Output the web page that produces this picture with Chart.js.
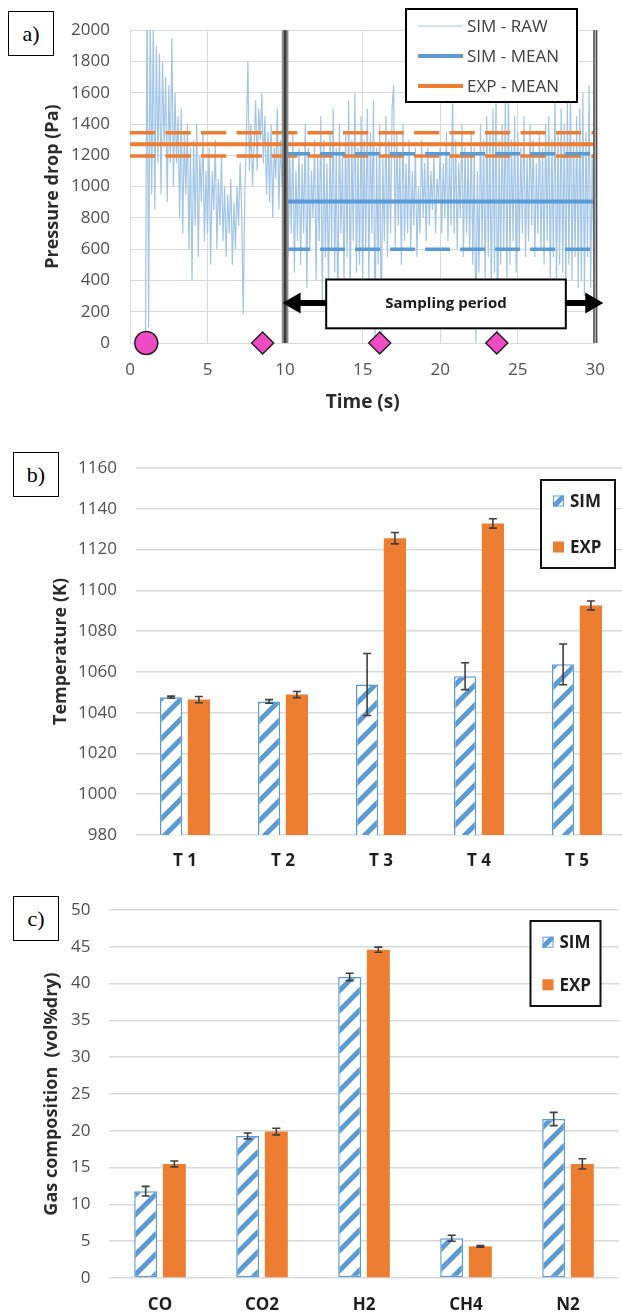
<!DOCTYPE html>
<html>
<head>
<meta charset="utf-8">
<script src="https://cdn.jsdelivr.net/npm/chart.js@4.4.1/dist/chart.umd.min.js"></script>
<style>
  html, body { margin: 0; padding: 0; background: #fff; }
  body { width: 622px; height: 1313px; overflow: hidden; position: relative; }
  canvas { position: absolute; left: 0; }
  .tag {
    position: absolute; z-index: 2; box-sizing: border-box;
    width: 46px; height: 45px; border: 1.5px solid #000; background: #fff;
    font: 22px "Liberation Serif", "DejaVu Serif", serif; color: #000;
    display: flex; align-items: center; justify-content: center;
  }
</style>
</head>
<body>
<canvas id="chartA" width="622" height="420" style="top:0;width:622px;height:420px"></canvas>
<canvas id="chartB" width="630" height="450" style="top:420px;width:630px;height:450px"></canvas>
<canvas id="chartC" width="622" height="443" style="top:870px;width:622px;height:443px"></canvas>
<div class="tag" style="left:8px;top:11px">a)</div>
<div class="tag" style="left:13px;top:452px">b)</div>
<div class="tag" style="left:13px;top:896px">c)</div>

<script>
// ---------- a) pressure drop ----------
// Simulated pressure drop, one sample every 0.1 s starting at t = 1.0 s
const RAW_START = 1.0;
const RAW_STEP = 0.1;
const simRaw = [
  0, 2300, 100, 2150, 950, 2050, 850, 1900, 1150, 1850,
  950, 1800, 1250, 1700, 900, 1650, 1150, 1950, 1000, 1600,
  1150, 1450, 800, 1500, 700, 1350, 950, 1400, 600, 1250,
  400, 1300, 750, 1400, 550, 1200, 900, 1350, 650, 1100,
  700, 1250, 500, 1100, 850, 1300, 600, 1050, 750, 1200,
  650, 1000, 550, 950, 700, 1050, 500, 900, 600, 1000,
  750, 1150, 850, 180, 950, 1300, 1800, 1100, 1400, 1000,
  1250, 1550, 1100, 1500, 1300, 1600, 1150, 1450, 950, 1350,
  900, 1400, 800, 1250, 1050, 1500, 850, 1300, 1000, 1200,
  800, 1300, 550, 1200, 700, 1350, 450, 1100, 650, 1250,
  500, 1150, 700, 1400, 350, 1250, 600, 1100, 800, 1300,
  400, 1200, 650, 1450, 250, 1300, 550, 1150, 300, 1350,
  600, 1500, 450, 1250, 150, 1400, 700, 1200, 400, 1350,
  550, 1550, 300, 1300, 650, 1600, 450, 1250, 500, 1450,
  350, 1300, 600, 1500, 400, 1350, 700, 1550, 0, 1250,
  500, 1400, 50, 1200, 650, 1450, 550, 1300, 700, 1500,
  1650, 600, 1350, 750, 1200, 500, 1400, 650, 1150, 700,
  1300, 600, 1100, 750, 1250, 550, 1000, 700, 1300, 800,
  1150, 650, 1250, 750, 1100, 850, 1200, 700, 1050, 900,
  1250, 700, 1150, 800, 1350, 650, 1200, 750, 1600, 700,
  1300, 600, 1150, 800, 1400, 550, 1250, 700, 1200, 600,
  1350, 500, 1250, 0, 1100, 450, 1400, 600, 1300, 400,
  1450, 550, 1350, 300, 1500, 450, 1600, 0, 1300, 500,
  1400, 600, 1550, 350, 1650, 500, 1300, 650, 1450, 450,
  1350, 600, 1250, 700, 1450, 550, 1200, 650, 1400, 750,
  1300, 550, 1150, 700, 1350, 600, 1250, 500, 1400, 650,
  1450, 400, 1300, 550, 1600, 350, 1350, 500, 1500, 450,
  1400, 300, 1550, 500, 1650, 400, 1300, 550, 1450, 350,
  1500, 400, 1600, 300, 1350, 550, 1650, 350, 1200, 500,
  1000
];
// [mean - std, mean, mean + std]
const expMeanBand = [1195, 1270, 1345];
const simMeanBand = [600, 905, 1210];
const expSpan = [0, 30];        // experimental mean covers the whole run
const samplingWindow = [10, 30]; // averaging period (s)
const startMarker = [1.05];
const sampleMarkers = [8.55, 16.1, 23.65];
const timeTicks = { min: 0, max: 30, step: 5 };
const pressureTicks = { min: 0, max: 2000, step: 200 };

// ---------- b) temperatures ----------
const tempLabels = ['T 1', 'T 2', 'T 3', 'T 4', 'T 5'];
const tempSim = [1047.6, 1045.5, 1053.8, 1057.9, 1063.7];
const tempSimErr = [0.5, 0.9, 15.2, 6.6, 10.0];
const tempExp = [1046.4, 1048.9, 1125.6, 1132.8, 1092.6];
const tempExpErr = [1.5, 1.5, 2.8, 2.3, 2.2];
const tempTicks = { min: 980, max: 1160, step: 20 };

// ---------- c) gas composition ----------
const gasLabels = ['CO', 'CO2', 'H2', 'CH4', 'N2'];
const gasSim = [11.8, 19.3, 40.9, 5.4, 21.6];
const gasSimErr = [0.65, 0.4, 0.5, 0.4, 0.9];
const gasExp = [15.5, 19.9, 44.6, 4.3, 15.5];
const gasExpErr = [0.4, 0.45, 0.35, 0.1, 0.7];
const gasTicks = { min: 0, max: 50, step: 5 };

// ---------- styling ----------
const FONT = '"Open Sans", "Liberation Sans", sans-serif';
const BLUE = '#5B9BD5';
const BLUE_LIGHT = '#A2C5E7';
const ORANGE = '#ED7D31';
const PINK = '#EE4BC4';
const GRID = '#D9D9D9';
const TICK_COLOR = '#505050';
const TITLE_COLOR = '#2B2B2B';
const plainNumber = v => String(v);

Chart.defaults.font.family = FONT;
Chart.defaults.color = TICK_COLOR;

function hatchPattern() {
  const c = document.createElement('canvas');
  c.width = 20; c.height = 20;
  const g = c.getContext('2d');
  g.fillStyle = '#fff';
  g.fillRect(0, 0, 20, 20);
  g.strokeStyle = BLUE;
  g.lineWidth = 5;
  g.beginPath();
  g.moveTo(-10, 10); g.lineTo(10, -10);
  g.moveTo(0, 20); g.lineTo(20, 0);
  g.moveTo(10, 30); g.lineTo(30, 10);
  g.stroke();
  return g.createPattern(c, 'repeat');
}
const HATCH = hatchPattern();

function flat(level, span) {
  return [{ x: span[0], y: level }, { x: span[1], y: level }];
}

// ---------- plugin: sampling window, annotation and legend for a) ----------
const pressureDecor = {
  id: 'pressureDecor',
  afterDatasetsDraw(chart) {
    const { ctx, chartArea: ca, scales: { x, y } } = chart;
    const h = ca.bottom - ca.top;
    const xs = x.getPixelForValue(samplingWindow[0]);
    const xe = x.getPixelForValue(samplingWindow[1]);
    ctx.save();

    // window start
    ctx.fillStyle = '#8A8A8A';
    ctx.fillRect(xs - 3.3, ca.top, 6.6, h);
    ctx.fillStyle = '#3C3C3C';
    ctx.fillRect(xs - 1.2, ca.top, 2.4, h);
    // window end
    ctx.fillStyle = '#B0B0B0';
    ctx.fillRect(xe - 2, ca.top, 4, h);
    ctx.fillStyle = '#4A4A4A';
    ctx.fillRect(xe - 2, ca.top, 1.3, h);
    ctx.fillRect(xe + 0.7, ca.top, 1.3, h);

    // "Sampling period" double arrow with label box
    const boxL = x.getPixelForValue(12.65), boxR = x.getPixelForValue(28.1);
    const boxT = y.getPixelForValue(406), boxB = y.getPixelForValue(94);
    const ay = y.getPixelForValue(256);
    const tipL = xs - 2.5, tipR = xe + 8;
    ctx.fillStyle = '#000';
    ctx.fillRect(tipL + 14, ay - 3, boxL - tipL - 14, 6);
    ctx.fillRect(boxR, ay - 3, tipR - boxR - 14, 6);
    ctx.beginPath();
    ctx.moveTo(tipL, ay); ctx.lineTo(tipL + 18, ay - 10.5); ctx.lineTo(tipL + 18, ay + 10.5); ctx.closePath();
    ctx.moveTo(tipR, ay); ctx.lineTo(tipR - 18, ay - 10.5); ctx.lineTo(tipR - 18, ay + 10.5); ctx.closePath();
    ctx.fill();
    ctx.fillStyle = '#fff';
    ctx.fillRect(boxL, boxT, boxR - boxL, boxB - boxT);
    ctx.lineWidth = 2;
    ctx.strokeStyle = '#000';
    ctx.strokeRect(boxL, boxT, boxR - boxL, boxB - boxT);
    ctx.fillStyle = '#1A1A1A';
    ctx.font = 'bold 15px ' + FONT;
    ctx.textAlign = 'center';
    ctx.textBaseline = 'middle';
    ctx.fillText('Sampling period', (boxL + boxR) / 2, (boxT + boxB) / 2);

    // legend
    const L = 406, T = 9, W = 171, H = 93;
    ctx.fillStyle = '#fff';
    ctx.fillRect(L, T, W, H);
    ctx.strokeRect(L, T, W, H);
    const items = chart.data.datasets.filter(d => d.legend);
    items.forEach((d, i) => {
      const yy = T + 17 + i * 30;
      ctx.strokeStyle = d.borderColor;
      ctx.lineWidth = d.borderWidth;
      ctx.beginPath();
      ctx.moveTo(L + 12, yy); ctx.lineTo(L + 57, yy);
      ctx.stroke();
      ctx.fillStyle = '#404040';
      ctx.font = '17px ' + FONT;
      ctx.textAlign = 'left';
      ctx.fillText(d.label, L + 61, yy + 1);
    });
    ctx.restore();
  }
};

// ---------- plugin: error bars for bar charts ----------
const errorBars = {
  id: 'errorBars',
  afterDatasetsDraw(chart) {
    const { ctx } = chart;
    const y = chart.scales.y;
    ctx.save();
    ctx.strokeStyle = '#3F3F3F';
    ctx.lineWidth = 1.6;
    chart.data.datasets.forEach((ds, di) => {
      if (!ds.errors) return;
      chart.getDatasetMeta(di).data.forEach((bar, i) => {
        const v = ds.data[i], e = ds.errors[i];
        const yt = y.getPixelForValue(v + e), yb = y.getPixelForValue(v - e);
        ctx.beginPath();
        ctx.moveTo(bar.x, yt); ctx.lineTo(bar.x, yb);
        ctx.moveTo(bar.x - 4, yt); ctx.lineTo(bar.x + 4, yt);
        ctx.moveTo(bar.x - 4, yb); ctx.lineTo(bar.x + 4, yb);
        ctx.stroke();
      });
    });
    ctx.restore();
  }
};

// ---------- plugin: boxed legend for bar charts ----------
const boxLegend = {
  id: 'boxLegend',
  afterDraw(chart, args, opts) {
    const { ctx } = chart;
    const { left: L, top: T, width: W, height: H, gap } = opts;
    ctx.save();
    ctx.fillStyle = '#fff';
    ctx.fillRect(L, T, W, H);
    ctx.lineWidth = 2;
    ctx.strokeStyle = '#111';
    ctx.strokeRect(L, T, W, H);
    chart.data.datasets.forEach((d, i) => {
      const yy = T + H / 2 + (i - 0.5) * gap;
      ctx.fillStyle = d.backgroundColor;
      ctx.fillRect(L + 12, yy - 5.5, 11, 11);
      if (d.borderWidth) {
        ctx.strokeStyle = d.borderColor;
        ctx.lineWidth = 1;
        ctx.strokeRect(L + 12.5, yy - 5, 10, 10);
      }
      ctx.fillStyle = '#1E1E1E';
      ctx.font = 'bold 17px ' + FONT;
      ctx.textAlign = 'left';
      ctx.textBaseline = 'middle';
      ctx.fillText(d.label, L + 29, yy + 1);
    });
    ctx.restore();
  }
};

// ---------- chart a) ----------
new Chart(document.getElementById('chartA'), {
  type: 'line',
  data: {
    datasets: [
      { label: 'SIM - RAW', legend: true, order: 10,
        data: simRaw.map((v, i) => ({ x: RAW_START + i * RAW_STEP, y: v })),
        borderColor: BLUE_LIGHT, borderWidth: 1.2, pointRadius: 0, tension: 0 },
      { label: 'SIM - MEAN', legend: true, order: 5,
        data: flat(simMeanBand[1], samplingWindow),
        borderColor: BLUE, borderWidth: 4, pointRadius: 0 },
      { label: 'EXP - MEAN', legend: true, order: 5,
        data: flat(expMeanBand[1], expSpan),
        borderColor: ORANGE, borderWidth: 4, pointRadius: 0 },
      { label: 'SIM - MEAN - std', order: 6, data: flat(simMeanBand[0], samplingWindow),
        borderColor: BLUE, borderWidth: 3.5, borderDash: [25, 10], pointRadius: 0 },
      { label: 'SIM - MEAN + std', order: 6, data: flat(simMeanBand[2], samplingWindow),
        borderColor: BLUE, borderWidth: 3.5, borderDash: [25, 10], pointRadius: 0 },
      { label: 'EXP - MEAN - std', order: 6, data: flat(expMeanBand[0], expSpan),
        borderColor: ORANGE, borderWidth: 3.5, borderDash: [25.3, 10.2], pointRadius: 0 },
      { label: 'EXP - MEAN + std', order: 6, data: flat(expMeanBand[2], expSpan),
        borderColor: ORANGE, borderWidth: 3.5, borderDash: [25.3, 10.2], pointRadius: 0 },
      { label: 'start', order: 1, showLine: false, clip: false,
        data: startMarker.map(t => ({ x: t, y: 0 })),
        pointStyle: 'circle', pointRadius: 11.5, backgroundColor: PINK,
        borderColor: '#222', borderWidth: 1.5 },
      { label: 'samples', order: 1, showLine: false, clip: false,
        data: sampleMarkers.map(t => ({ x: t, y: 0 })),
        pointStyle: 'rectRot', pointRadius: 11, backgroundColor: PINK,
        borderColor: '#222', borderWidth: 1.5 }
    ]
  },
  options: {
    responsive: false, animation: false, devicePixelRatio: 1,
    layout: { padding: { top: 23, right: 15, left: 0, bottom: 0 } },
    plugins: { legend: { display: false }, tooltip: { enabled: false } },
    scales: {
      x: {
        type: 'linear', min: timeTicks.min, max: timeTicks.max,
        ticks: { stepSize: timeTicks.step, padding: 17, font: { size: 17 }, color: TICK_COLOR,
                 callback: plainNumber },
        grid: { color: GRID, lineWidth: 1, drawTicks: false },
        border: { display: false },
        title: { display: true, text: 'Time (s)', color: TITLE_COLOR,
                 font: { size: 19, weight: 'bold' }, padding: { top: 0, bottom: 6 } },
        afterFit(s) { s.height = 77; }
      },
      y: {
        min: pressureTicks.min, max: pressureTicks.max,
        ticks: { stepSize: pressureTicks.step, padding: 20, font: { size: 17 }, color: TICK_COLOR,
                 callback: plainNumber },
        grid: { color: GRID, lineWidth: 1, drawTicks: false },
        border: { display: false },
        title: { display: true, text: 'Pressure drop (Pa)', color: TITLE_COLOR,
                 font: { size: 18, weight: 'bold' }, padding: { top: 42, bottom: 0 } },
        afterFit(s) { s.width = 130; }
      }
    }
  },
  plugins: [pressureDecor]
});

// ---------- bar charts b) and c) ----------
function barChart(id, labels, sim, simErr, exp, expErr, ticks, title, geo) {
  return new Chart(document.getElementById(id), {
    type: 'bar',
    data: {
      labels,
      datasets: [
        { label: 'SIM', data: sim, errors: simErr, backgroundColor: HATCH,
          borderColor: BLUE, borderWidth: 1.5, borderSkipped: false },
        { label: 'EXP', data: exp, errors: expErr, backgroundColor: ORANGE, borderWidth: 0 }
      ]
    },
    options: {
      responsive: false, animation: false, devicePixelRatio: 1,
      layout: { padding: { top: geo.top, right: geo.right, left: 0, bottom: 0 } },
      datasets: { bar: { categoryPercentage: geo.cat, barPercentage: 0.8 } },
      plugins: { legend: { display: false }, tooltip: { enabled: false }, boxLegend: geo.legend },
      scales: {
        x: {
          ticks: { padding: geo.xPad, font: { size: 17, weight: 'bold' }, color: '#1E1E1E' },
          grid: { display: false, drawTicks: false },
          border: { display: false },
          afterFit(s) { s.height = geo.xHeight; }
        },
        y: {
          min: ticks.min, max: ticks.max,
          ticks: { stepSize: ticks.step, padding: geo.yPad, font: { size: 17 }, color: TICK_COLOR,
                   callback: plainNumber },
          grid: { color: GRID, lineWidth: 1.6, drawTicks: false },
          border: { display: false },
          title: { display: true, text: title, color: TITLE_COLOR,
                   font: { size: 18, weight: 'bold' }, padding: { top: geo.titlePad, bottom: 0 } },
          afterFit(s) { s.width = geo.left; }
        }
      }
    },
    plugins: [errorBars, boxLegend]
  });
}

barChart('chartB', tempLabels, tempSim, tempSimErr, tempExp, tempExpErr, tempTicks,
  'Temperature (K)',
  { top: 48, right: 4, left: 136, xHeight: 35, xPad: 16, yPad: 19, titlePad: 50, cat: 0.567,
    legend: { left: 541, top: 60, width: 74, height: 88, gap: 46 } });

barChart('chartC', gasLabels, gasSim, gasSimErr, gasExp, gasExpErr, gasTicks,
  'Gas composition  (vol%dry)',
  { top: 40, right: 3, left: 109, xHeight: 35, xPad: 17, yPad: 18.5, titlePad: 41, cat: 0.562,
    legend: { left: 530.5, top: 51, width: 70, height: 85, gap: 42.6 } });
</script>
</body>
</html>
